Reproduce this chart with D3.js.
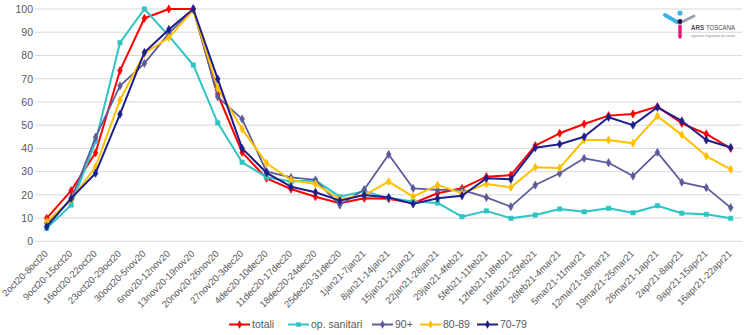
<!DOCTYPE html>
<html><head><meta charset="utf-8">
<script src="https://cdn.jsdelivr.net/npm/d3@7/dist/d3.min.js"></script>
<style>body{margin:0;background:#fff;}svg{display:block;font-family:"Liberation Sans",Arial,sans-serif;}</style>
</head><body><svg id="c" width="750" height="335"></svg>
<script>
const categories = ["2oct20-8oct20","9oct20-15oct20","16oct20-22oct20","23oct20-29oct20","30oct20-5nov20","6nov20-12nov20","13nov20-19nov20","20nov20-26nov20","27nov20-3dec20","4dec20-10dec20","11dec20-17dec20","18dec20-24dec20","25dec20-31dec20","1jan21-7jan21","8jan21-14jan21","15jan21-21jan21","22jan21-28jan21","29jan21-4feb21","5feb21-11feb21","12feb21-18feb21","19feb21-25feb21","26feb21-4mar21","5mar21-11mar21","12mar21-18mar21","19mar21-25mar21","26mar21-1apr21","2apr21-8apr21","9apr21-15apr21","16apr21-22apr21"];
const totali = [9.9,21.8,38.1,73.5,96,100,100,63.3,38.3,27.1,22.5,19.2,16.4,18.5,18.3,16.4,20.7,22.8,27.8,28.5,41.2,46.5,50.5,54.1,54.8,58,50.8,46.2,40];
const opSanitari = [5.6,15.6,42.9,85.5,100,88.4,75.9,51,34,27.6,25.7,26.2,19.2,21.6,18.6,17.1,16.5,10.6,13.1,9.9,11.3,13.9,12.7,14.2,12.3,15.3,12.1,11.6,9.9];
const eta90 = [7.7,18,44.8,66.9,76.6,89.5,100,62.2,52.6,30,27.5,26.4,15.6,22.3,37.4,22.8,22.1,22.1,18.9,14.9,24.2,29.3,35.7,33.8,28.1,38.3,25.4,23.1,14.5];
const eta8089 = [8.4,17.8,32.1,60.8,80.9,87.7,99.5,65.9,48.3,33.6,26.4,24.7,18.1,19.9,25.7,19.2,24.2,20.7,24.7,23.2,31.9,31.6,43.6,43.6,42.2,53.9,45.8,36.7,31];
const eta7079 = [6.3,18.5,29.3,54.7,81.3,91.2,100,69.9,40,29.5,23.5,21.1,17.5,19.9,18.9,16.1,18.5,19.6,27.1,26.7,40.3,41.8,45,53.4,50,57.7,51.8,43.6,40.4];
const yTicks = [0,10,20,30,40,50,60,70,80,90,100];
const seriesNames = ["totali","op. sanitari","90+","80-89","70-79"];

const series = [
  {name:seriesNames[0], values:totali, color:"#FF0000", marker:"diamond", w:2},
  {name:seriesNames[1], values:opSanitari, color:"#2EC4C4", marker:"square", w:2},
  {name:seriesNames[2], values:eta90, color:"#5B5B9B", marker:"diamond", w:1.75},
  {name:seriesNames[3], values:eta8089, color:"#FFC000", marker:"diamond", w:2},
  {name:seriesNames[4], values:eta7079, color:"#1F1F8C", marker:"diamond", w:2}
];

const svg = d3.select("#c");
const x = d3.scalePoint().domain(categories).range([46.7, 730.7]);
const y = d3.scaleLinear().domain([0,100]).range([241.3, 9]);

svg.append("g").selectAll("line").data(yTicks).join("line")
  .attr("x1",35).attr("x2",742).attr("y1",d=>y(d)).attr("y2",d=>y(d))
  .attr("stroke","#D9D9D9").attr("stroke-width",1);

const yAxis = d3.axisLeft(y).tickValues(yTicks).tickSize(0).tickPadding(0);
const ga = svg.append("g").attr("transform","translate(33,0)").call(yAxis);
ga.select(".domain").remove();
ga.selectAll("text").attr("fill","#595959").style("font-size","10.5px").style("font-family","Liberation Sans, Arial, sans-serif");

const xAxis = d3.axisBottom(x).tickSize(0).tickPadding(0);
const gx = svg.append("g").attr("transform","translate(0,247)").call(xAxis);
gx.select(".domain").remove();
gx.selectAll("text")
  .attr("fill","#595959").style("font-size","9.5px").style("font-family","Liberation Sans Narrow, Liberation Sans, Arial, sans-serif")
  .attr("text-anchor","end").attr("dy","0.35em").attr("y",0).attr("x",0)
  .attr("transform","translate(-1,5) rotate(-45)");

const line = d3.line().x((d,i)=>x(categories[i])).y(d=>y(d));
const markerPath = m => m==="square" ? d3.symbol().type(d3.symbolSquare).size(20)() : d3.symbol().type(d3.symbolDiamond).size(20)();

series.forEach(s=>{
  const g = svg.append("g");
  g.append("path").datum(s.values).attr("d",line).attr("fill","none")
    .attr("stroke",s.color).attr("stroke-width",s.w).attr("stroke-linejoin","round");
  g.selectAll("path.m").data(s.values).join("path").attr("class","m")
    .attr("transform",(d,i)=>`translate(${x(categories[i])},${y(d)})`)
    .attr("d", markerPath(s.marker))
    .attr("fill",s.color).attr("stroke",s.color).attr("stroke-width",0.5);
});

const legendX = [229, 288, 372, 420, 477];
const lg = svg.append("g").attr("transform","translate(0,324.5)");
series.forEach((s,i)=>{
  const gg = lg.append("g").attr("transform",`translate(${legendX[i]},0)`);
  gg.append("line").attr("x1",0).attr("x2",21).attr("stroke",s.color).attr("stroke-width",2);
  gg.append("path").attr("transform","translate(10.5,0)").attr("d", markerPath(s.marker)).attr("fill",s.color);
  gg.append("text").attr("x",23).attr("dy","0.35em").text(s.name)
    .attr("fill","#595959").style("font-size","10.5px");
});

// logo
const logo = svg.append("g");
logo.append("line").attr("x1",665).attr("y1",15).attr("x2",677).attr("y2",22).attr("stroke","#3CB4E5").attr("stroke-width",4).attr("stroke-linecap","round");
logo.append("line").attr("x1",684).attr("y1",21).attr("x2",694).attr("y2",16).attr("stroke","#9AA3B5").attr("stroke-width",3).attr("stroke-linecap","round");
logo.append("circle").attr("cx",680).attr("cy",13).attr("r",2.6).attr("fill","#3CB4E5");
logo.append("circle").attr("cx",680).attr("cy",21.5).attr("r",2.5).attr("fill","#1A1A4A");
logo.append("line").attr("x1",680).attr("y1",26).attr("x2",680).attr("y2",37).attr("stroke","#E5197E").attr("stroke-width",3.5).attr("stroke-linecap","round");
logo.append("text").attr("x",691).attr("y",30).style("font-size","7.5px").style("font-weight","bold").attr("fill","#4D4D4D")
  .attr("textLength",13).attr("lengthAdjust","spacingAndGlyphs").text("ARS");
logo.append("text").attr("x",706).attr("y",30).style("font-size","7.5px").attr("fill","#4D4D4D")
  .attr("textLength",29).attr("lengthAdjust","spacingAndGlyphs").text("TOSCANA");
logo.append("text").attr("x",691).attr("y",36.5).style("font-size","3px").attr("fill","#888")
  .attr("textLength",44).attr("lengthAdjust","spacingAndGlyphs").text("agenzia regionale di sanità");
</script></body></html>
